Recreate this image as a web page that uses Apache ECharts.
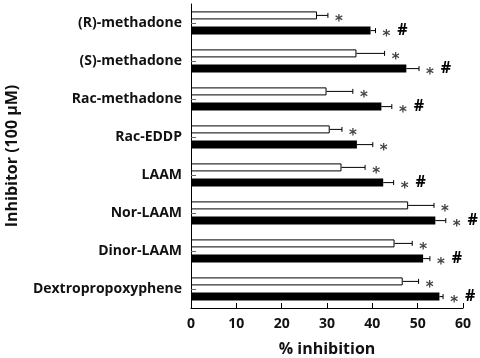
<!DOCTYPE html>
<html>
<head>
<meta charset="utf-8">
<script src="https://cdn.jsdelivr.net/npm/echarts@6/dist/echarts.min.js"></script>
<style>
  html, body { margin: 0; padding: 0; background: #fff; }
  #chart { width: 480px; height: 358px; }
</style>
</head>
<body>
<div id="chart"></div>
<script>
var categories = ['(R)-methadone', '(S)-methadone', 'Rac-methadone', 'Rac-EDDP', 'LAAM', 'Nor-LAAM', 'Dinor-LAAM', 'Dextropropoxyphene'];
var whiteMean = [27.8, 36.5, 29.9, 30.6, 33.2, 47.9, 44.9, 46.7];
var whiteErr  = [2.4, 6.2, 5.8, 2.7, 5.2, 5.7, 3.9, 3.5];
var blackMean = [39.6, 47.5, 42.0, 36.6, 42.4, 53.9, 51.2, 54.8];
var blackErr  = [1.1, 2.8, 2.3, 3.5, 2.3, 2.3, 1.5, 0.8];
var whiteStar = [true, true, true, true, true, true, true, true];
var blackStar = [true, true, true, true, true, true, true, true];
var blackHash = [true, true, true, false, true, true, true, true];
var xTicks = [0, 10, 20, 30, 40, 50, 60];

var FONT = '"Open Sans"';
var BAR_W = 8;
var BAR_GAP = 0.9; // fraction of bar width
var half = (BAR_W + BAR_W * BAR_GAP) / 2;

function errData(mean, err, star, hash) {
  return categories.map(function (c, i) {
    return [i, mean[i], err[i], star[i] ? 1 : 0, hash ? (hash[i] ? 1 : 0) : 0];
  });
}

function makeRender(dy) {
  return function (params, api) {
    var cat = api.value(0), m = api.value(1), e = api.value(2);
    var p0 = api.coord([m, cat]);
    var p1 = api.coord([m + e, cat]);
    var y = p0[1] + dy;
    var kids = [
      { type: 'line', shape: { x1: p0[0], y1: y, x2: p1[0], y2: y }, style: { stroke: '#000', lineWidth: 1 } },
      { type: 'line', shape: { x1: p1[0], y1: y - 2.5, x2: p1[0], y2: y + 2.5 }, style: { stroke: '#000', lineWidth: 1 } }
    ];
    if (api.value(3)) {
      kids.push({ type: 'text', style: { x: p1[0] + 11, y: y + 7, text: '*', fill: '#444',
        font: 'bold 15px "DejaVu Sans"', align: 'center', verticalAlign: 'middle' } });
    }
    if (api.value(4)) {
      kids.push({ type: 'text', style: { x: p1[0] + 27, y: y, text: '#', fill: '#000',
        font: 'bold 16px ' + FONT, align: 'center', verticalAlign: 'middle' } });
    }
    return { type: 'group', children: kids };
  };
}

var myChart = echarts.init(document.getElementById('chart'));
var option = {
  animation: false,
  grid: { left: 191, right: 17, top: 4, bottom: 50, outerBoundsMode: 'none' },
  xAxis: {
    type: 'value', min: 0, max: 60, interval: 10,
    name: '% inhibition', nameLocation: 'middle', nameGap: 33,
    nameTextStyle: { fontFamily: FONT, fontWeight: 'bold', fontSize: 16, color: '#111' },
    axisLine: { show: true, lineStyle: { color: '#000', width: 1 } },
    axisTick: { show: true, inside: true, length: 5, lineStyle: { color: '#000' } },
    axisLabel: { fontFamily: FONT, fontWeight: 'bold', fontSize: 14, color: '#111', margin: 9,
      formatter: function (v) { return xTicks.indexOf(v) >= 0 ? String(v) : ''; } },
    splitLine: { show: false }
  },
  yAxis: {
    type: 'category', data: categories, inverse: true,
    name: 'Inhibitor (100 µM)', nameLocation: 'middle', nameGap: 171, nameRotate: 90,
    nameTextStyle: { fontFamily: FONT, fontWeight: 'bold', fontSize: 16, color: '#111' },
    axisLine: { show: true, lineStyle: { color: '#000', width: 1 } },
    axisTick: { show: true, inside: true, length: 5, alignWithLabel: true, lineStyle: { color: '#666' } },
    axisLabel: { fontFamily: FONT, fontWeight: 'bold', fontSize: 14, color: '#111', margin: 9 }
  },
  series: [
    { type: 'bar', data: whiteMean, barWidth: BAR_W, barGap: (BAR_GAP * 100) + '%',
      itemStyle: { color: '#fff', borderColor: '#000', borderWidth: 1 } },
    { type: 'bar', data: blackMean, barWidth: BAR_W,
      itemStyle: { color: '#000' } },
    { type: 'custom', data: errData(whiteMean, whiteErr, whiteStar, null), renderItem: makeRender(-half), z: 5 },
    { type: 'custom', data: errData(blackMean, blackErr, blackStar, blackHash), renderItem: makeRender(half), z: 5 }
  ]
};
myChart.setOption(option);
</script>
</body>
</html>
